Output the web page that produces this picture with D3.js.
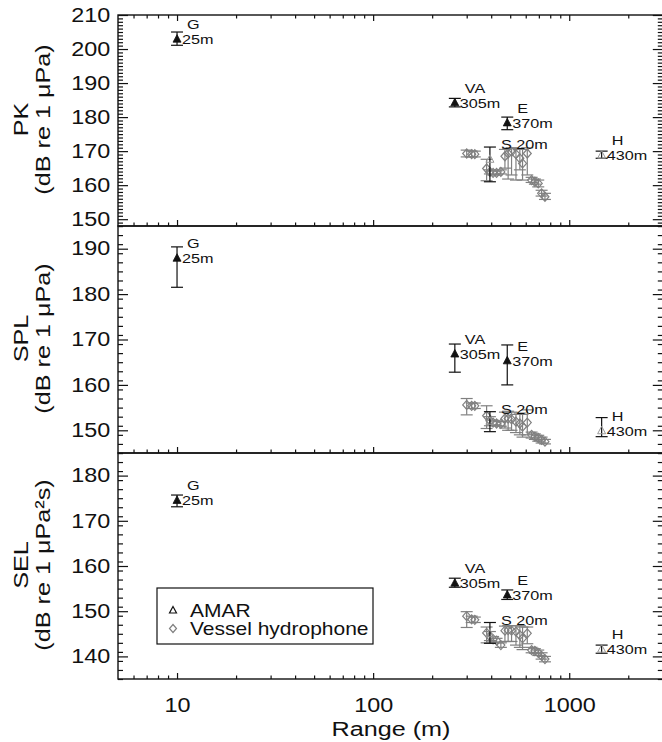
<!DOCTYPE html>
<html><head><meta charset="utf-8">
<script src="https://cdn.jsdelivr.net/npm/d3@7"></script>
<style>
body{margin:0;background:#fff}
svg{display:block}
text{font-family:"Liberation Sans",Arial,Helvetica,sans-serif;fill:#111}
</style>
</head><body><svg id="c" width="662" height="742"></svg>
<script>
// ---------------- data ----------------
const xMajorTicks = [10, 100, 1000];
const xTickLabels = ["10", "100", "1000"];
const xMinorTicks = [6,7,8,9,20,30,40,50,60,70,80,90,200,300,400,500,600,700,800,900,2000];

const panelNames = ["PK", "SPL", "SEL"];
const panelUnits = ["(dB re 1 μPa)", "(dB re 1 μPa)", "(dB re 1 μPa²s)"];
const yDomains = [[148, 210], [145, 195], [135, 185]];
const yMajorTicks = [[150,160,170,180,190,200,210], [150,160,170,180,190], [140,150,160,170,180]];
const yMinorSteps = [1, 2, 2];

// AMAR recorders
const amarNames  = ["G", "VA", "E", "S", "H"];
const amarDepths = ["25m", "305m", "370m", "20m", "430m"];
const amarFilled = [true, true, true, false, false];
const amarRange  = [10, 261, 483, 394, 1463];
const pkAmar   = [202.9, 184.2, 178.3, 167.6, 168.8];
const pkAmarLo = [201.1, 183.0, 176.3, 161.0, 167.9];
const pkAmarHi = [205.0, 185.5, 180.0, 171.2, 170.0];
const splAmar   = [187.9, 166.8, 165.3, 152.0, 149.9];
const splAmarLo = [181.5, 162.8, 160.0, 149.7, 148.6];
const splAmarHi = [190.4, 169.0, 168.8, 154.1, 152.8];
const selAmar   = [174.5, 156.2, 153.6, 145.0, 141.6];
const selAmarLo = [173.1, 155.3, 152.6, 142.9, 140.7];
const selAmarHi = [175.7, 157.3, 154.7, 147.5, 142.5];

// Vessel hydrophone
const vesselRange = [300,318,330,379,394,409,426,448,470,488,508,535,560,578,611,643,668,695,723,752];
const pkVessel   = [169.3,169.1,169.1,164.9,163.9,163.6,163.6,163.9,168.5,169.3,169.8,169.1,167.9,166.4,169.3,161.5,161.0,160.5,157.6,156.6];
const pkVesselLo = [168.3,168.3,168.3,161.3,163.3,163.0,163.0,163.3,165.0,161.8,163.0,161.5,164.5,161.5,163.0,160.8,160.3,159.5,156.8,155.8];
const pkVesselHi = [170.3,170.0,170.0,167.6,164.5,164.2,164.2,164.5,170.5,170.8,171.0,170.8,170.5,170.5,171.0,162.3,161.8,161.5,158.5,157.6];
const splVessel   = [155.6,155.4,155.4,153.2,152.1,151.7,151.5,151.4,152.6,152.6,152.4,151.9,151.5,150.8,151.7,149.0,148.6,148.3,147.9,147.5];
const splVesselLo = [153.4,154.8,154.8,150.4,151.0,151.2,151.0,150.9,150.5,150.0,150.0,149.5,149.0,148.5,149.0,148.3,148.0,147.6,147.2,147.0];
const splVesselHi = [157.0,156.0,156.0,155.4,153.0,152.2,152.0,151.9,154.0,154.2,154.0,153.5,153.8,153.5,154.5,149.6,149.2,148.9,148.5,148.0];
const selVessel   = [148.9,148.2,148.1,145.2,144.4,143.8,143.5,142.5,145.7,145.8,145.7,145.5,144.7,144.0,145.1,141.4,141.2,140.8,140.1,139.4];
const selVesselLo = [146.4,147.5,147.5,143.0,143.5,143.2,143.0,142.0,143.3,143.3,143.3,142.5,142.0,141.5,142.8,140.8,140.7,140.2,139.4,138.8];
const selVesselHi = [149.9,148.9,148.7,146.5,145.5,144.4,144.0,143.0,146.7,146.8,146.8,146.8,146.8,146.5,146.5,142.0,141.7,141.4,140.8,140.0];

const legendLabels = ["AMAR", "Vessel hydrophone"];
const xTitle = "Range (m)";

// --------------- layout ----------------
const SX = 1.2;              // horizontal text stretch (wide Helvetica in reference)
const plotLeft = 118, plotRight = 662.8;
const panelTops = [15, 226, 453], panelBottoms = [226, 453, 679];
const grey = "#808080";

const amarSets = [[pkAmar, pkAmarLo, pkAmarHi], [splAmar, splAmarLo, splAmarHi], [selAmar, selAmarLo, selAmarHi]];
const vesselSets = [[pkVessel, pkVesselLo, pkVesselHi], [splVessel, splVesselLo, splVesselHi], [selVessel, selVesselLo, selVesselHi]];

const svg = d3.select("#c");
const x = d3.scaleLog().domain([5, 3000]).range([plotLeft, plotRight]);

function addText(g, px, py, str, size, anchor, rot) {
  return g.append("text")
    .attr("transform", `translate(${px},${py})` + (rot ? ` rotate(${rot})` : "") + ` scale(${SX},1)`)
    .attr("text-anchor", anchor || "start")
    .attr("font-size", size)
    .text(str);
}

function triPath(cx, cy) {
  return `M${cx},${cy-4.5}L${cx+4},${cy+3}L${cx-4},${cy+3}Z`;
}
function diamondPath(cx, cy) {
  return `M${cx},${cy-4.5}L${cx+4},${cy}L${cx},${cy+4.5}L${cx-4},${cy}Z`;
}

panelNames.forEach((name, p) => {
  const top = panelTops[p], bot = panelBottoms[p];
  const y = d3.scaleLinear().domain(yDomains[p]).range([bot, top]);
  const g = svg.append("g");
  const minor = d3.range(yDomains[p][0], yDomains[p][1] + 0.001, yMinorSteps[p]).filter(v => !yMajorTicks[p].includes(v));

  // frame
  g.append("rect").attr("x", plotLeft).attr("y", top).attr("width", plotRight - plotLeft).attr("height", bot - top)
    .attr("fill", "none").attr("stroke", "#111").attr("stroke-width", 1.4);

  // left axis
  const la = g.append("g").attr("transform", `translate(${plotLeft},0)`)
    .call(d3.axisLeft(y).tickValues(yMajorTicks[p]).tickSize(-10).tickPadding(6.5).tickFormat(d3.format("d")));
  la.select(".domain").remove();
  la.selectAll("text").attr("font-size", 19.5).attr("font-family", null).attr("transform", `scale(${SX},1)`).attr("fill", "#111");
  const lm = g.append("g").attr("transform", `translate(${plotLeft},0)`)
    .call(d3.axisLeft(y).tickValues(minor).tickSize(-5).tickFormat(""));
  lm.select(".domain").remove();
  // right axis
  const ra = g.append("g").attr("transform", `translate(${plotRight},0)`)
    .call(d3.axisRight(y).tickValues(yMajorTicks[p]).tickSize(-10).tickFormat(""));
  ra.select(".domain").remove();
  const rm = g.append("g").attr("transform", `translate(${plotRight},0)`)
    .call(d3.axisRight(y).tickValues(minor).tickSize(-5).tickFormat(""));
  rm.select(".domain").remove();

  // bottom x axis (ticks inward)
  const ba = g.append("g").attr("transform", `translate(0,${bot})`)
    .call(d3.axisBottom(x).tickValues(xMajorTicks).tickSize(-6).tickPadding(19)
      .tickFormat((d, i) => p === 2 ? xTickLabels[i] : ""));
  ba.select(".domain").remove();
  ba.selectAll("text").attr("font-size", 19.5).attr("font-family", null).attr("transform", `scale(${SX},1)`).attr("fill", "#111");
  const bm = g.append("g").attr("transform", `translate(0,${bot})`)
    .call(d3.axisBottom(x).tickValues(xMinorTicks).tickSize(-3.5).tickFormat(""));
  bm.select(".domain").remove();
  if (p === 0) {
    const ta = g.append("g").attr("transform", `translate(0,${top})`)
      .call(d3.axisTop(x).tickValues(xMajorTicks).tickSize(-6).tickFormat(""));
    ta.select(".domain").remove();
    const tm = g.append("g").attr("transform", `translate(0,${top})`)
      .call(d3.axisTop(x).tickValues(xMinorTicks).tickSize(-3.5).tickFormat(""));
    tm.select(".domain").remove();
  }
  g.selectAll(".tick line").attr("stroke", "#111").attr("stroke-width", 1.2);

  // y titles
  const cy = (top + bot) / 2 - 1;
  addText(g, 28, cy, name, 21, "middle", -90);
  addText(g, 50, cy, panelUnits[p], 21, "middle", -90);

  // vessel hydrophone points
  const [vv, vlo, vhi] = vesselSets[p];
  const vg = g.append("g").attr("stroke", grey).attr("stroke-width", 1.2).attr("fill", "none");
  vesselRange.forEach((r, i) => {
    const px = x(r);
    vg.append("line").attr("x1", px).attr("x2", px).attr("y1", y(vlo[i])).attr("y2", y(vhi[i]));
    vg.append("line").attr("x1", px - 6).attr("x2", px + 6).attr("y1", y(vlo[i])).attr("y2", y(vlo[i]));
    vg.append("line").attr("x1", px - 6).attr("x2", px + 6).attr("y1", y(vhi[i])).attr("y2", y(vhi[i]));
    vg.append("path").attr("d", diamondPath(px, y(vv[i])));
  });

  // AMAR points
  const [av, alo, ahi] = amarSets[p];
  const ag = g.append("g");
  amarRange.forEach((r, i) => {
    const px = x(r), py = y(av[i]);
    const eg = ag.append("g").attr("stroke", "#111").attr("stroke-width", 1.2);
    eg.append("line").attr("x1", px).attr("x2", px).attr("y1", y(alo[i])).attr("y2", y(ahi[i]));
    eg.append("line").attr("x1", px - 6).attr("x2", px + 6).attr("y1", y(alo[i])).attr("y2", y(alo[i]));
    eg.append("line").attr("x1", px - 6).attr("x2", px + 6).attr("y1", y(ahi[i])).attr("y2", y(ahi[i]));
    if (amarFilled[i]) {
      ag.append("path").attr("d", triPath(px, py)).attr("fill", "#111").attr("stroke", "#111").attr("stroke-width", 0.8);
    } else {
      ag.append("path").attr("d", triPath(px, py)).attr("fill", "none").attr("stroke", "#999").attr("stroke-width", 1);
    }
    if (amarNames[i] === "S") {
      addText(ag, px + 11, y(ahi[i]) - 3 + 5, amarNames[i] + " " + amarDepths[i], 13.5, "start");
    } else {
      addText(ag, px + 5, py + 5, amarDepths[i], 13.5, "start");
      addText(ag, px + 10, py - 15 + 5, amarNames[i], 13.5, "start");
    }
  });
});

// legend
const lg = svg.append("g");
lg.append("rect").attr("x", 157).attr("y", 588).attr("width", 216).attr("height", 56)
  .attr("fill", "#fff").attr("stroke", "#111").attr("stroke-width", 1.2);
lg.append("path").attr("d", "M173,606.5L176.5,613L169.5,613Z").attr("fill", "none").attr("stroke", "#111").attr("stroke-width", 1.2);
lg.append("path").attr("d", "M173,624.5L176.5,628.5L173,632.5L169.5,628.5Z").attr("fill", "none").attr("stroke", grey).attr("stroke-width", 1.2);
addText(lg, 190, 616.5, legendLabels[0], 17.5, "start");
addText(lg, 190, 634.5, legendLabels[1], 17.5, "start");

// x title
addText(svg, 391, 736, xTitle, 21, "middle");
</script>
</body></html>
